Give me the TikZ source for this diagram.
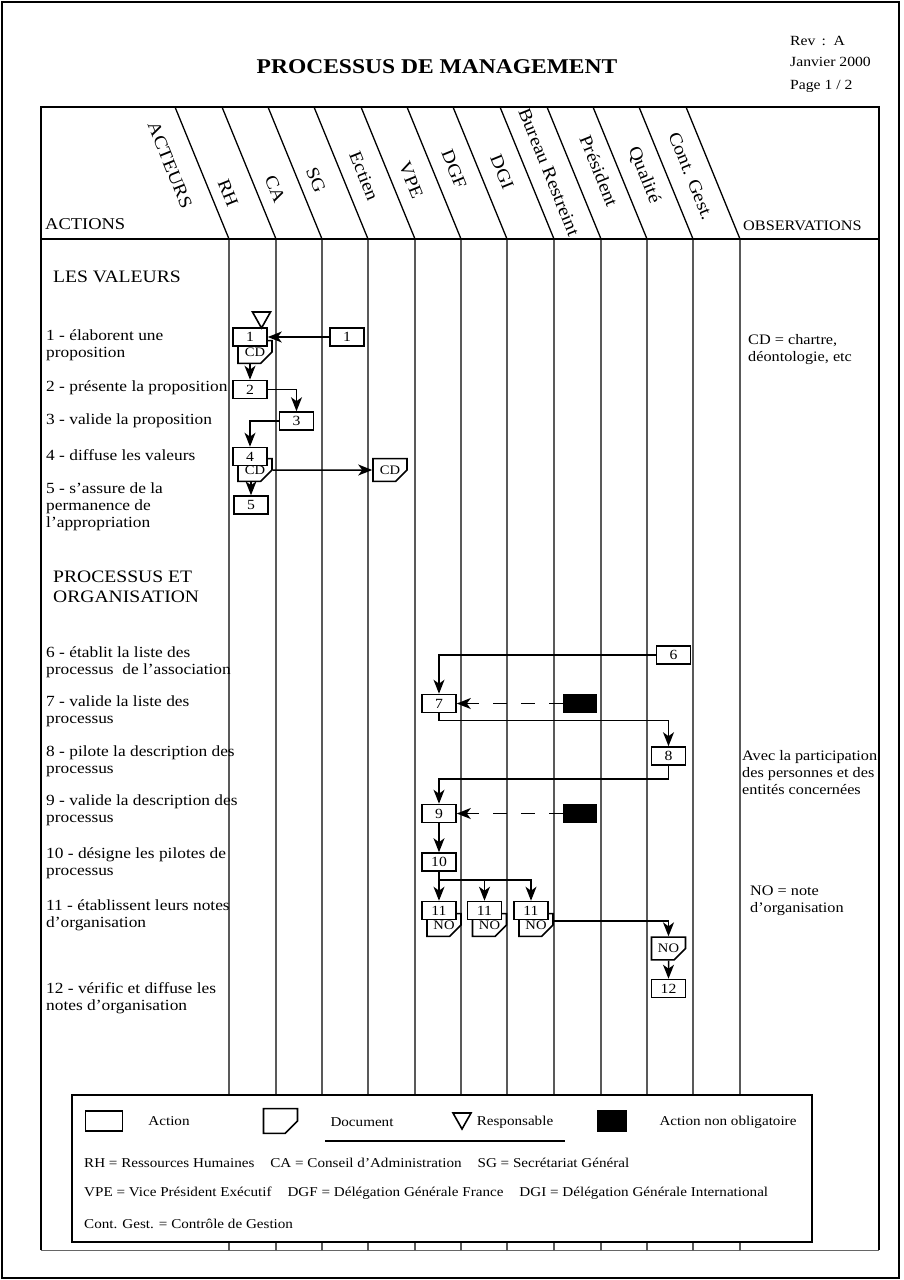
\documentclass[tikz,border=0pt]{standalone}
\usepackage{fontspec}
\setmainfont{Liberation Serif}[FakeStretch=1.12]
\usetikzlibrary{arrows.meta, positioning, shapes.misc}

\tikzset{
  actbox/.style={draw, fill=white, line width=1.6pt, minimum width=34pt,
    minimum height=18pt, inner sep=0pt, font=\fontsize{14}{14}\selectfont},
  docbox/.style={chamfered rectangle, chamfered rectangle corners=south east,
    chamfered rectangle xsep=7pt, chamfered rectangle ysep=7pt, draw, fill=white,
    line width=1.6pt, minimum width=34pt, minimum height=17pt, inner sep=0pt,
    font=\fontsize{13}{13}\selectfont},
  optbox/.style={fill=black, minimum width=34pt, minimum height=19pt, inner sep=0pt},
  flow/.style={->, line width=1.5pt},
  optflow/.style={flow, dash pattern=on 14pt off 14pt},
  gridline/.style={line width=1.3pt},
  acttext/.style={anchor=west, align=left, inner sep=0pt, font=\fontsize{15.5}{17}\selectfont},
  sectitle/.style={anchor=west, align=left, inner sep=0pt, font=\fontsize{17.5}{20}\selectfont},
  obstext/.style={anchor=west, align=left, inner sep=0pt, font=\fontsize{14.5}{17}\selectfont},
  actor/.style={rotate=-68, inner sep=0pt, font=\fontsize{18}{18}\selectfont},
  legtext/.style={inner sep=0pt, font=\fontsize{13.5}{15}\selectfont},
  resp/.pic={\draw[line width=1.6pt, fill=white] (-9,-16) -- (9,-16) -- (0,0) -- cycle;}
}

\begin{document}
\begin{tikzpicture}[x=1pt, y=-1pt, >={Stealth[length=14pt, width=11pt, inset=4pt]}]
\useasboundingbox (0,0) rectangle (903,1280);

% Page frame
\draw[line width=2.5pt] (2,2) rectangle (899,1278);

% Title block
\node[font=\fontsize{21}{21}\selectfont\bfseries] (title) at (437,67) {PROCESSUS DE MANAGEMENT};
\node[anchor=west, inner sep=0pt, font=\fontsize{14}{14}\selectfont] (rev) at (790,41) {Rev \,:\, A};
\node[anchor=west, inner sep=0pt, font=\fontsize{14}{14}\selectfont] (date) at (790,62) {Janvier 2000};
\node[anchor=west, inner sep=0pt, font=\fontsize{14}{14}\selectfont] (page) at (790,86) {Page 1 / 2};

% Table frame
\draw[line width=2.5pt] (41,1250) -- (41,107) -- (879,107) -- (879,1250);
\draw[line width=2.5pt] (41,239) -- (879,239);
\draw[line width=0.8pt, black!60] (41,1250) -- (879,1250);

% Actor columns: slanted in the header, vertical below
\foreach \x in {229,276,322,368,415,461,507,554,601,647,693,740}
  \draw[gridline] ({\x-54},107) -- (\x,239) -- (\x,1250);

% Header labels
\node[actor] (hact) at (170,165) {ACTEURS};
\foreach \name/\txt/\x/\y in {rh/RH/228/193, ca/CA/275/189, sg/SG/316/180,
    ect/Ectien/364/176, vpe/VPE/411/180, dgf/DGF/454/169, dgi/DGI/502/172,
    br/Bureau Restreint/549/172, pres/Président/599/171, qual/Qualité/644/175,
    cg/Cont. Gest./691/176}
  \node[actor] (h\name) at (\x,\y) {\txt};
\node[anchor=west, inner sep=0pt, font=\fontsize{16.5}{17}\selectfont] (hactions) at (45,224) {ACTIONS};
\node[anchor=west, inner sep=0pt, font=\fontsize{14.5}{15}\selectfont] (hobs) at (743,226) {OBSERVATIONS};

% Actions column
\node[sectitle] (sv) at (53,277) {LES VALEURS};
\node[acttext] (t1) at (46,345) {1 - élaborent une\\proposition};
\node[acttext] (t2) at (46,388) {2 - présente la proposition};
\node[acttext] (t3) at (46,421) {3 - valide la proposition};
\node[acttext] (t4) at (46,455) {4 - diffuse les valeurs};
\node[acttext] (t5) at (46,507) {5 - s'assure de la\\permanence de\\l'appropriation};
\node[sectitle] (spo) at (53,587) {PROCESSUS ET\\ORGANISATION};
\node[acttext] (t6) at (46,662) {6 - établit la liste des\\processus \ de l'association};
\node[acttext] (t7) at (46,711.5) {7 - valide la liste des\\processus};
\node[acttext] (t8) at (46,761) {8 - pilote la description des\\processus};
\node[acttext] (t9) at (46,810.5) {9 - valide la description des\\processus};
\node[acttext] (t10) at (46,863.5) {10 - désigne les pilotes de\\processus};
\node[acttext] (t11) at (46,915.5) {11 - établissent leurs notes\\d'organisation};
\node[acttext] (t12) at (46,998.5) {12 - vérific et diffuse les\\notes d'organisation};

% Observations column
\node[obstext] (o1) at (748,350) {CD = chartre,\\déontologie, etc};
\node[obstext] (o2) at (742,773) {Avec la participation\\des personnes et des\\entités concernées};
\node[obstext] (o3) at (750,901) {NO = note\\d'organisation};

% Les valeurs
\node[docbox] (d1) at (255,352) {CD};
\node[actbox] (a1) at (250,337) {1};
\pic at (261.5,328) {resp};
\node[actbox] (x1) at (347,337) {1};
\node[actbox] (a2) at (250,389.5) {2};
\node[actbox] (a3) at (296.5,421) {3};
\node[docbox] (d4) at (255,470) {CD};
\node[actbox] (a4) at (250,456.5) {4};
\node[docbox] (e1) at (390,470) {CD};
\node[actbox] (a5) at (251,505) {5};

\draw[flow] (x1) -- (a1);
\draw[flow] (d1.south -| a2.north) -- (a2.north);
\draw[flow] (a2) -| (a3);
\draw[flow] (a3) -| (a4);
\draw[flow] (d4) -- (e1);
\draw[flow] (d4.south -| a5.north) -- (a5.north);

% Processus et organisation
\node[actbox] (x6) at (673.5,655) {6};
\node[actbox] (a7) at (439,703.5) {7};
\node[optbox] (k7) at (580,703.5) {};
\node[actbox] (a8) at (668.5,756) {8};
\node[actbox] (a9) at (439,813.5) {9};
\node[optbox] (k9) at (580,813.5) {};
\node[actbox] (a10) at (439,862) {10};
\node[docbox] (n11a) at (444,925) {NO};
\node[actbox] (b11a) at (439,910.5) {11};
\node[docbox] (n11b) at (489.5,925) {NO};
\node[actbox] (b11b) at (484.5,910.5) {11};
\node[docbox] (n11c) at (536,925) {NO};
\node[actbox] (b11c) at (531,910.5) {11};
\node[docbox] (q12) at (668.5,948.5) {NO};
\node[actbox] (a12) at (668.5,988.5) {12};

\draw[flow] (x6) -| (a7);
\draw[optflow] (k7) -- (a7);
\draw[flow] (a7.south) -- ++(0,7) -| (a8.north);
\draw[flow] (a8.south) -- ++(0,13) -| (a9.north);
\draw[optflow] (k9) -- (a9);
\draw[flow] (a9) -- (a10);
\draw[flow] (a10) -- (b11a);
\draw[flow] (a10.south) -- ++(0,8) -| (b11b.north);
\draw[flow] (a10.south) -- ++(0,8) -| (b11c.north);
\draw[flow] ([yshift=4pt]n11c.east) -| (q12.north);
\draw[flow] (q12) -- (a12);

% Legend
\draw[line width=1.8pt, fill=white] (72,1095) rectangle (812,1242);
\node[actbox, minimum width=37pt, minimum height=20pt] (lact) at (104,1121) {};
\node[legtext] (lacttxt) at (169,1121) {Action};
\node[docbox, minimum width=34pt, minimum height=21pt, chamfered rectangle xsep=8pt,
  chamfered rectangle ysep=8pt] (ldoc) at (280.5,1121) {\phantom{CD}};
\node[legtext] (ldoctxt) at (362,1122) {Document};
\pic at (462,1129) {resp};
\node[legtext] (lresptxt) at (515,1122) {Responsable};
\node[optbox, minimum width=30pt, minimum height=22pt] (lopt) at (612,1121) {};
\node[legtext] (lopttxt) at (728,1122) {Action non obligatoire};
\draw[line width=1.8pt] (325,1141) -- (565,1141);
\node[legtext, anchor=west] (lrow1) at (84,1163)
  {RH = Ressources Humaines\hspace{16pt}CA = Conseil d'Administration\hspace{16pt}SG = Secrétariat Général};
\node[legtext, anchor=west] (lrow2) at (84,1193.5)
  {VPE = Vice Président Exécutif\hspace{16pt}DGF = Délégation Générale France\hspace{16pt}DGI = Délégation Générale International};
\node[legtext, anchor=west] (lrow3) at (84,1224) {Cont. Gest. = Contrôle de Gestion};

\end{tikzpicture}
\end{document}
